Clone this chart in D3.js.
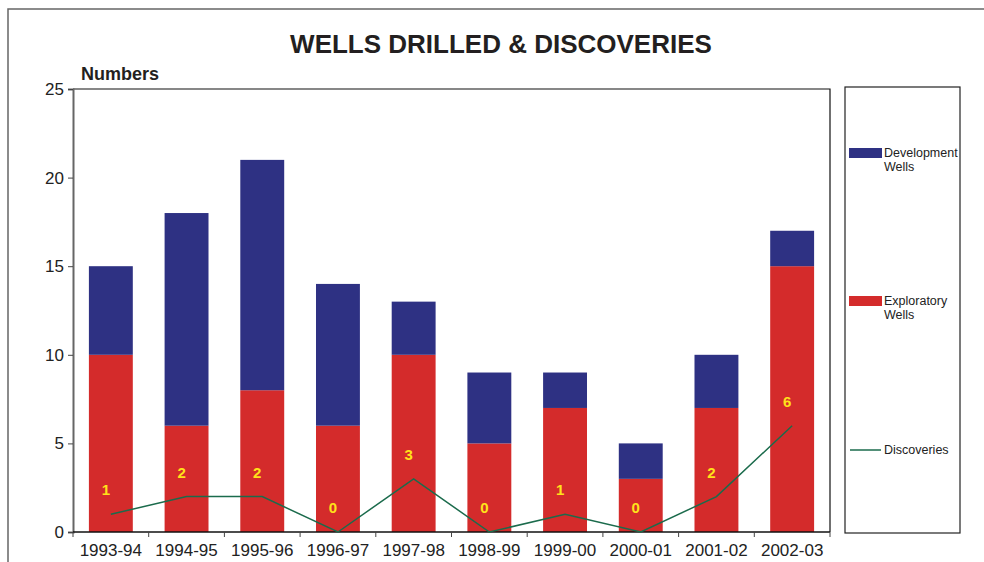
<!DOCTYPE html>
<html>
<head>
<meta charset="utf-8">
<script src="https://cdn.jsdelivr.net/npm/d3@7"></script>
<style>
  html, body { margin: 0; padding: 0; background: #fff; }
  svg { display: block; font-family: "Liberation Sans", Arial, sans-serif; }
</style>
</head>
<body>
<svg id="chart" width="984" height="562"></svg>
<script>
// Wells drilled per year, split by type, with discoveries overlaid
const years = ["1993-94", "1994-95", "1995-96", "1996-97", "1997-98",
               "1998-99", "1999-00", "2000-01", "2001-02", "2002-03"];
const exploratoryWells = [10, 6, 8, 6, 10, 5, 7, 3, 7, 15];
const developmentWells = [5, 12, 13, 8, 3, 4, 2, 2, 3, 2];
const discoveries = [1, 2, 2, 0, 3, 0, 1, 0, 2, 6];
const yTicks = [0, 5, 10, 15, 20, 25];

const colors = {
  exploratory: "#d42b2b",
  development: "#2e3183",
  discoveries: "#1b6b4c",
  label: "#ffe21a"
};

const svg = d3.select("#chart");

// outer frame
svg.append("path")
  .attr("d", "M8,562 L8,9 L984,9")
  .attr("fill", "none")
  .attr("stroke", "#666")
  .attr("stroke-width", 1.5);

const plot = { left: 73, right: 830, top: 89, bottom: 532 };

const x = d3.scaleBand()
  .domain(years)
  .range([plot.left, plot.right])
  .paddingInner(0.42)
  .paddingOuter(0.21);

const xBand = d3.scaleBand().domain(years).range([plot.left, plot.right]);

const y = d3.scaleLinear().domain([0, 25]).range([plot.bottom, plot.top]);

// title
svg.append("text")
  .attr("x", 501).attr("y", 53)
  .attr("text-anchor", "middle")
  .attr("font-size", 26).attr("font-weight", "bold")
  .attr("fill", "#231f20")
  .text("WELLS DRILLED & DISCOVERIES");

svg.append("text")
  .attr("x", 81).attr("y", 80)
  .attr("font-size", 18).attr("font-weight", "bold")
  .attr("fill", "#231f20")
  .text("Numbers");

// stacked bars
const rows = years.map((yr, i) => ({
  year: yr,
  exploratory: exploratoryWells[i],
  development: developmentWells[i]
}));
const stack = d3.stack().keys(["exploratory", "development"])(rows);

svg.append("g").selectAll("g")
  .data(stack)
  .join("g")
  .attr("fill", d => colors[d.key])
  .selectAll("rect")
  .data(d => d)
  .join("rect")
  .attr("x", d => x(d.data.year))
  .attr("y", d => y(d[1]))
  .attr("width", x.bandwidth())
  .attr("height", d => y(d[0]) - y(d[1]));

// plot frame: top and right edges
svg.append("path")
  .attr("d", `M${plot.left},${plot.top} L${plot.right},${plot.top} L${plot.right},${plot.bottom}`)
  .attr("fill", "none")
  .attr("stroke", "#111")
  .attr("stroke-width", 1.2);

// y axis
const yAxis = svg.append("g")
  .attr("transform", `translate(${plot.left},0)`)
  .call(d3.axisLeft(y).tickValues(yTicks).tickSize(5).tickPadding(4));
yAxis.select(".domain").attr("stroke", "#666").attr("stroke-width", 2);
yAxis.selectAll(".tick line").attr("stroke", "#444");
yAxis.selectAll(".tick text")
  .attr("font-size", 17).attr("fill", "#222")
  .attr("font-family", "Liberation Sans, Arial, sans-serif");

// x axis with ticks at category boundaries
const xAxisG = svg.append("g")
  .attr("transform", `translate(0,${plot.bottom})`);
xAxisG.append("line")
  .attr("x1", plot.left).attr("x2", plot.right)
  .attr("stroke", "#111").attr("stroke-width", 1.5);
xAxisG.selectAll("line.tk")
  .data(years.concat(["end"]))
  .join("line")
  .attr("class", "tk")
  .attr("x1", (d, i) => i < years.length ? xBand(d) : plot.right)
  .attr("x2", (d, i) => i < years.length ? xBand(d) : plot.right)
  .attr("y1", 0).attr("y2", 5)
  .attr("stroke", "#444");
xAxisG.selectAll("text")
  .data(years)
  .join("text")
  .attr("x", d => xBand(d) + xBand.bandwidth() / 2)
  .attr("y", 24)
  .attr("text-anchor", "middle")
  .attr("font-size", 17)
  .attr("fill", "#222")
  .text(d => d);

// discoveries line
const cx = d => xBand(d) + xBand.bandwidth() / 2;
const line = d3.line()
  .x((d, i) => cx(years[i]))
  .y(d => y(d));
svg.append("path")
  .datum(discoveries)
  .attr("d", line)
  .attr("fill", "none")
  .attr("stroke", colors.discoveries)
  .attr("stroke-width", 1.5);

// discovery value labels
svg.append("g").selectAll("text")
  .data(discoveries)
  .join("text")
  .attr("x", (d, i) => cx(years[i]) - 5)
  .attr("y", d => y(d) - 19)
  .attr("text-anchor", "middle")
  .attr("font-size", 15)
  .attr("font-weight", "bold")
  .attr("fill", colors.label)
  .text(d => d);

// legend
const legend = svg.append("g");
legend.append("rect")
  .attr("x", 845).attr("y", 87)
  .attr("width", 115).attr("height", 446)
  .attr("fill", "none")
  .attr("stroke", "#222")
  .attr("stroke-width", 1.2);

const legendItems = [
  { key: "development", lines: ["Development", "Wells"], y: 153, type: "rect" },
  { key: "exploratory", lines: ["Exploratory", "Wells"], y: 301, type: "rect" },
  { key: "discoveries", lines: ["Discoveries"], y: 450, type: "line" }
];
legendItems.forEach(item => {
  if (item.type === "rect") {
    legend.append("rect")
      .attr("x", 849).attr("y", item.y - 5)
      .attr("width", 33).attr("height", 10)
      .attr("fill", colors[item.key]);
  } else {
    legend.append("line")
      .attr("x1", 850).attr("x2", 881)
      .attr("y1", item.y).attr("y2", item.y)
      .attr("stroke", colors[item.key])
      .attr("stroke-width", 1.5);
  }
  item.lines.forEach((t, j) => {
    legend.append("text")
      .attr("x", 884)
      .attr("y", item.y + 4 + j * 14)
      .attr("font-size", 12.5)
      .attr("fill", "#222")
      .text(t);
  });
});
</script>
</body>
</html>
